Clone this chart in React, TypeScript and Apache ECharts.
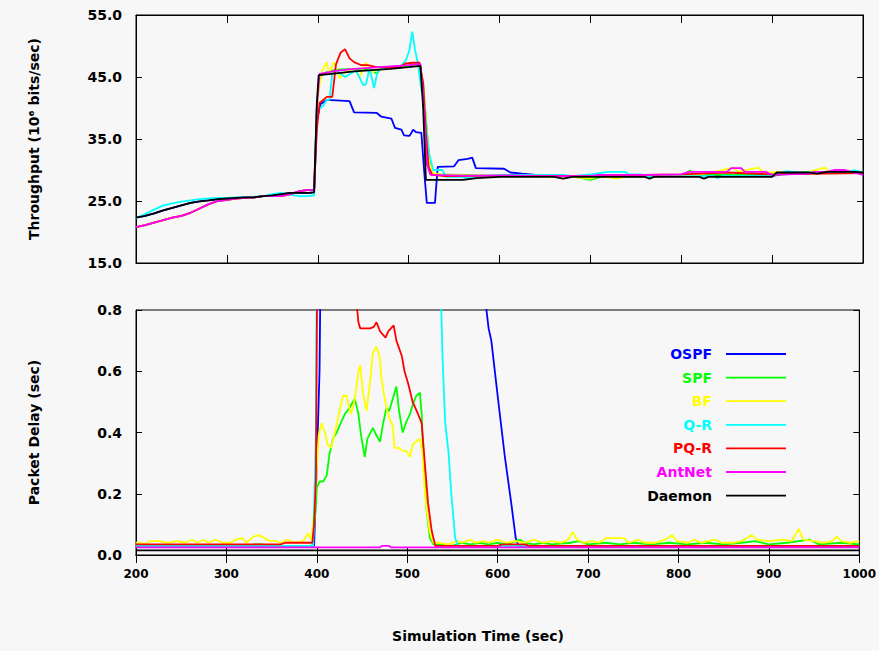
import React, { useEffect, useRef } from "react";
import * as echarts from "echarts";

type P = [number, number];

// ---------- shared tick values ----------
const xTicks = [200, 300, 400, 500, 600, 700, 800, 900, 1000];
const seriesNames = ["OSPF", "SPF", "BF", "Q-R", "PQ-R", "AntNet", "Daemon"];
const seriesColors = ["#0000ff", "#00ff00", "#ffff00", "#00ffff", "#ff0000", "#ff00ff", "#000000"];

// ---------- throughput (top) ----------
const blackRamp: P[] = [[200,22.3],[210,22.6],[220,23.0],[230,23.5],[240,23.9],[250,24.3],[260,24.7],[270,24.95],[280,25.1],[290,25.3],[300,25.4],[310,25.5],[320,25.6],[330,25.6],[340,25.8],[350,25.9],[360,26.1],[370,26.3],[380,26.3],[390,26.3],[396,26.4]];
const cyanRamp: P[] = [[200,22.2],[210,22.9],[220,23.6],[230,24.3],[240,24.6],[250,24.9],[260,25.1],[270,25.3],[280,25.4],[290,25.5],[300,25.5],[310,25.6],[320,25.6],[330,25.7],[340,25.8],[350,26.1],[360,26.3],[370,26.0],[380,25.8],[390,25.8],[396,25.9]];
const lowerRamp: P[] = [[200,20.8],[210,21.1],[220,21.5],[230,21.9],[240,22.3],[250,22.6],[260,23.1],[270,23.8],[280,24.5],[290,25.0],[300,25.2],[310,25.4],[320,25.5],[330,25.6],[340,25.8],[350,25.8],[360,25.8],[370,26.1],[380,26.6],[390,26.8],[396,26.8]];

const ospfThroughput: P[] = [...blackRamp,[399,38.0],[403,40.6],[410,41.3],[435,41.1],[440,39.3],[465,39.2],[470,38.6],[481,38.3],[485,36.8],[492,36.5],[495,35.6],[501,35.5],[505,36.5],[508,36.1],[514,36.0],[517,30.0],[520,24.7],[529,24.7],[532,30.5],[550,30.6],[555,31.6],[565,31.8],[570,32.0],[574,30.3],[605,30.2],[612,29.6],[625,29.4],[640,29.2],[660,29.1],[700,29.0],[760,29.1],[800,29.0],[850,29.2],[900,29.0],[920,29.6],[1000,29.6]];
const spfThroughput: P[] = [...lowerRamp,[399,40.0],[402,45.0],[410,45.8],[420,46.2],[440,46.3],[460,46.1],[465,45.5],[470,46.6],[490,46.5],[505,47.0],[512,47.1],[516,44.0],[520,36.6],[524,30.0],[528,29.3],[560,29.2],[600,29.0],[680,29.0],[700,28.4],[712,28.9],[800,29.0],[810,29.9],[815,29.2],[900,29.2],[955,29.6],[1000,29.6]];
const bfThroughput: P[] = [...lowerRamp,[399,40.0],[402,43.7],[405,46.1],[410,47.4],[412,45.6],[418,47.4],[424,44.8],[430,45.8],[440,46.4],[446,45.0],[453,47.3],[458,45.6],[464,46.1],[475,46.6],[490,46.6],[500,47.2],[508,46.9],[511,47.3],[515,45.0],[519,38.0],[523,31.0],[526,29.5],[540,29.2],[600,29.0],[680,28.9],[700,28.6],[710,29.0],[730,28.6],[740,29.0],[820,29.2],[858,30.4],[862,29.7],[885,30.4],[890,29.6],[940,29.7],[958,30.4],[962,29.8],[1000,29.7]];
const qrThroughput: P[] = [...cyanRamp,[399,39.7],[405,40.2],[410,41.3],[413,41.3],[416,45.6],[420,46.1],[430,45.0],[442,46.1],[450,43.7],[453,43.8],[457,46.4],[462,43.2],[466,46.0],[475,46.6],[490,46.6],[497,47.7],[501,49.4],[504,52.3],[507,49.4],[510,47.4],[514,43.0],[517,40.8],[522,33.0],[527,30.0],[537,30.0],[541,28.9],[557,28.9],[565,28.7],[580,29.0],[600,29.2],[670,29.2],[680,29.0],[700,29.3],[720,29.7],[738,29.7],[742,29.3],[756,29.3],[760,29.0],[835,29.0],[840,28.7],[845,29.0],[900,29.0],[915,29.8],[930,29.6],[985,29.7],[990,30.0],[1000,29.6]];
const pqrThroughput: P[] = [...lowerRamp,[399,36.5],[402,40.8],[410,41.8],[416,41.8],[420,47.0],[425,48.9],[430,49.5],[435,48.0],[440,47.4],[448,46.9],[455,46.9],[465,46.6],[480,46.5],[490,46.6],[497,47.2],[505,47.3],[512,47.3],[516,44.0],[519,36.0],[522,30.5],[526,29.2],[540,29.0],[600,29.1],[700,29.0],[760,29.2],[800,29.3],[850,29.6],[900,29.3],[1000,29.5]];
const antnetThroughput: P[] = [...lowerRamp,[399,40.0],[402,45.5],[420,46.0],[440,46.3],[460,46.5],[480,46.7],[500,46.9],[513,47.1],[516,42.0],[520,31.0],[524,29.2],[560,29.1],[600,29.1],[640,29.0],[700,29.0],[708,29.2],[760,29.2],[800,29.3],[808,29.7],[850,29.7],[855,30.3],[866,30.3],[870,29.7],[893,29.7],[900,29.2],[940,29.4],[946,29.7],[960,29.7],[968,30.0],[980,30.0],[990,29.6],[1000,29.2]];
const daemonThroughput: P[] = [...blackRamp,[399,40.8],[401,45.3],[420,45.6],[440,45.9],[460,46.1],[480,46.3],[500,46.6],[513,46.8],[516,40.0],[519,28.4],[540,28.4],[560,28.4],[575,28.7],[600,28.9],[660,28.9],[670,28.6],[680,28.9],[760,28.9],[765,28.6],[770,28.9],[820,28.9],[825,28.6],[830,28.9],[900,28.9],[905,29.6],[940,29.6],[950,29.4],[960,29.7],[990,29.7],[1000,29.6]];

// ---------- packet delay (bottom) ----------
const ospfDelay: P[] = [[200,0.03],[397,0.03],[400,0.3],[403,0.6],[406,1.5],[582,1.5],[586,0.84],[590,0.74],[593,0.70],[600,0.52],[608,0.32],[615,0.17],[620,0.055],[623,0.03],[700,0.03],[1000,0.03]];
const spfDelay: P[] = [[200,0.03],[325,0.03],[330,0.035],[340,0.035],[345,0.03],[395,0.03],[398,0.12],[400,0.22],[403,0.24],[407,0.24],[411,0.26],[414,0.33],[418,0.38],[422,0.40],[427,0.435],[431,0.46],[436,0.48],[442,0.51],[446,0.46],[449,0.39],[453,0.32],[456,0.38],[462,0.415],[466,0.39],[470,0.37],[473,0.425],[477,0.48],[480,0.47],[484,0.51],[488,0.55],[491,0.47],[495,0.40],[499,0.435],[503,0.46],[506,0.49],[510,0.52],[514,0.53],[516,0.46],[517,0.38],[519,0.27],[521,0.16],[525,0.055],[529,0.035],[540,0.035],[550,0.03],[560,0.04],[570,0.035],[580,0.04],[590,0.035],[600,0.04],[610,0.035],[620,0.045],[625,0.05],[630,0.04],[640,0.035],[650,0.04],[660,0.035],[680,0.04],[690,0.045],[700,0.035],[720,0.04],[735,0.035],[750,0.04],[770,0.035],[790,0.04],[810,0.035],[830,0.04],[850,0.035],[870,0.04],[885,0.045],[900,0.035],[920,0.04],[945,0.05],[955,0.035],[980,0.04],[1000,0.035]];
const bfDelay: P[] = [[200,0.04],[205,0.04],[210,0.035],[215,0.045],[225,0.045],[235,0.04],[245,0.045],[255,0.04],[262,0.05],[268,0.04],[275,0.05],[280,0.04],[288,0.05],[295,0.04],[305,0.04],[310,0.05],[318,0.055],[322,0.04],[330,0.06],[336,0.065],[342,0.055],[348,0.045],[355,0.045],[360,0.04],[368,0.05],[375,0.04],[385,0.045],[390,0.07],[394,0.05],[398,0.18],[402,0.39],[405,0.43],[409,0.40],[412,0.36],[416,0.35],[420,0.40],[425,0.47],[429,0.52],[433,0.52],[435,0.49],[438,0.46],[442,0.51],[446,0.60],[448,0.62],[451,0.53],[455,0.47],[459,0.57],[462,0.66],[466,0.68],[470,0.64],[471,0.59],[474,0.53],[477,0.48],[480,0.45],[484,0.42],[486,0.35],[490,0.35],[495,0.34],[499,0.34],[503,0.32],[506,0.36],[510,0.37],[514,0.38],[517,0.33],[519,0.23],[521,0.16],[525,0.075],[529,0.04],[535,0.04],[545,0.035],[555,0.045],[560,0.04],[570,0.05],[575,0.04],[585,0.045],[590,0.04],[600,0.05],[610,0.04],[620,0.045],[630,0.04],[640,0.05],[650,0.04],[660,0.045],[670,0.04],[678,0.05],[683,0.075],[688,0.05],[695,0.04],[705,0.045],[712,0.04],[720,0.055],[740,0.055],[745,0.04],[756,0.05],[762,0.04],[775,0.04],[785,0.05],[793,0.065],[798,0.045],[810,0.04],[818,0.05],[825,0.04],[840,0.05],[848,0.04],[860,0.04],[870,0.045],[881,0.065],[887,0.05],[900,0.045],[915,0.05],[925,0.045],[933,0.085],[938,0.05],[950,0.045],[960,0.04],[970,0.045],[975,0.06],[980,0.045],[990,0.04],[1000,0.045]];
const qrDelay: P[] = [[200,0.03],[396,0.03],[399,0.4],[401,1.5],[535,1.5],[537.5,0.82],[539,0.65],[542,0.43],[545.5,0.34],[549,0.19],[553,0.056],[556,0.03],[700,0.03],[1000,0.03]];
const pqrDelay: P[] = [[200,0.035],[360,0.035],[365,0.04],[395,0.04],[397,0.1],[399,0.25],[401,1.2],[441,1.2],[443,0.85],[446,0.76],[448,0.74],[459,0.74],[463,0.745],[466,0.76],[470,0.73],[476,0.71],[479,0.73],[485,0.75],[488,0.70],[494,0.65],[497,0.60],[501,0.56],[506,0.50],[512,0.46],[516,0.43],[520,0.28],[523,0.17],[527,0.08],[531,0.03],[600,0.03],[605,0.035],[630,0.035],[635,0.03],[1000,0.03]];
const antnetDelay: P[] = [[200,0.025],[470,0.025],[472,0.03],[480,0.03],[482,0.025],[1000,0.025]];
const daemonDelay: P[] = [[200,0.015],[1000,0.015]];

const throughputData = [ospfThroughput, spfThroughput, bfThroughput, qrThroughput, pqrThroughput, antnetThroughput, daemonThroughput];
const delayData = [ospfDelay, spfDelay, bfDelay, qrDelay, pqrDelay, antnetDelay, daemonDelay];

const FONT = "DejaVu Sans";

export default function App() {
  const ref = useRef<HTMLDivElement>(null);
  useEffect(() => {
    if (!ref.current) return;
    const chart = echarts.init(ref.current, undefined, { renderer: "svg" });

    const axisLine = { show: true, lineStyle: { color: "#000", width: 1 } };
    const mkX = (gridIndex: number, position: "top" | "bottom", labels: boolean) => ({
      type: "value", gridIndex, position, min: xTicks[0], max: xTicks[xTicks.length - 1], interval: 100,
      axisLine, splitLine: { show: false },
      axisTick: { show: true, inside: true, length: 8, lineStyle: { color: "#000" } },
      axisLabel: { show: labels, margin: 13, color: "#000", fontFamily: FONT, fontWeight: "bold", fontSize: 12, formatter: (v: number) => String(v) },
    });
    const mkY = (gridIndex: number, position: "left" | "right", min: number, max: number, interval: number, labels: boolean, name?: string) => ({
      type: "value", gridIndex, position, min, max, interval,
      axisLine, splitLine: { show: false },
      axisTick: { show: true, inside: true, length: 6, lineStyle: { color: "#000" } },
      axisLabel: { show: labels, margin: 14, color: "#000", fontFamily: FONT, fontWeight: "bold", fontSize: 14, formatter: (v: number) => v.toFixed(1) },
      name: name || "", nameLocation: "middle", nameGap: 95,
      nameTextStyle: { color: "#000", fontFamily: FONT, fontWeight: "bold", fontSize: 14 },
    });

    const series: any[] = [];
    seriesNames.forEach((n, i) => {
      series.push({ name: n, type: "line", xAxisIndex: 0, yAxisIndex: 0, data: throughputData[i], showSymbol: false, symbol: "none", clip: true, lineStyle: { color: seriesColors[i], width: 1.8 }, itemStyle: { color: seriesColors[i] } });
    });
    seriesNames.forEach((n, i) => {
      series.push({ name: n, type: "line", xAxisIndex: 2, yAxisIndex: 2, data: delayData[i], showSymbol: false, symbol: "none", clip: true, lineStyle: { color: seriesColors[i], width: 1.8 }, itemStyle: { color: seriesColors[i] } });
    });

    const legendGraphics: any[] = [];
    seriesNames.forEach((n, i) => {
      const y = 354 + i * 23.6;
      legendGraphics.push({ type: "text", x: 712, y, style: { text: n, fill: seriesColors[i], font: `bold 14px "${FONT}"`, textAlign: "right", textVerticalAlign: "middle" } });
      legendGraphics.push({ type: "line", shape: { x1: 726, y1: y, x2: 786, y2: y }, style: { stroke: seriesColors[i], lineWidth: 1.8 } });
    });

    chart.setOption({
      animation: false,
      backgroundColor: "#f7f7f7",
      grid: [
        { left: 136, right: 16, top: 15, height: 248, show: true, borderColor: "#000", borderWidth: 1, backgroundColor: "transparent" },
        { left: 136, right: 16, top: 310, height: 245, show: true, borderColor: "#000", borderWidth: 1, backgroundColor: "transparent" },
      ],
      xAxis: [mkX(0, "bottom", false), mkX(0, "top", false), mkX(1, "bottom", true), mkX(1, "top", false)],
      yAxis: [
        mkY(0, "left", 15, 55, 10, true, "Throughput (10⁶ bits/sec)"),
        mkY(0, "right", 15, 55, 10, false),
        mkY(1, "left", 0, 0.8, 0.2, true, "Packet Delay (sec)"),
        mkY(1, "right", 0, 0.8, 0.2, false),
      ],
      series,
      graphic: [
        ...legendGraphics,
        { type: "text", x: 478, y: 636, style: { text: "Simulation Time (sec)", fill: "#000", font: `bold 14px "${FONT}"`, textAlign: "center", textVerticalAlign: "middle" } },
      ],
    });
    return () => chart.dispose();
  }, []);
  return <div ref={ref} style={{ position: "fixed", left: 0, top: 0, width: 879, height: 651 }} />;
}
